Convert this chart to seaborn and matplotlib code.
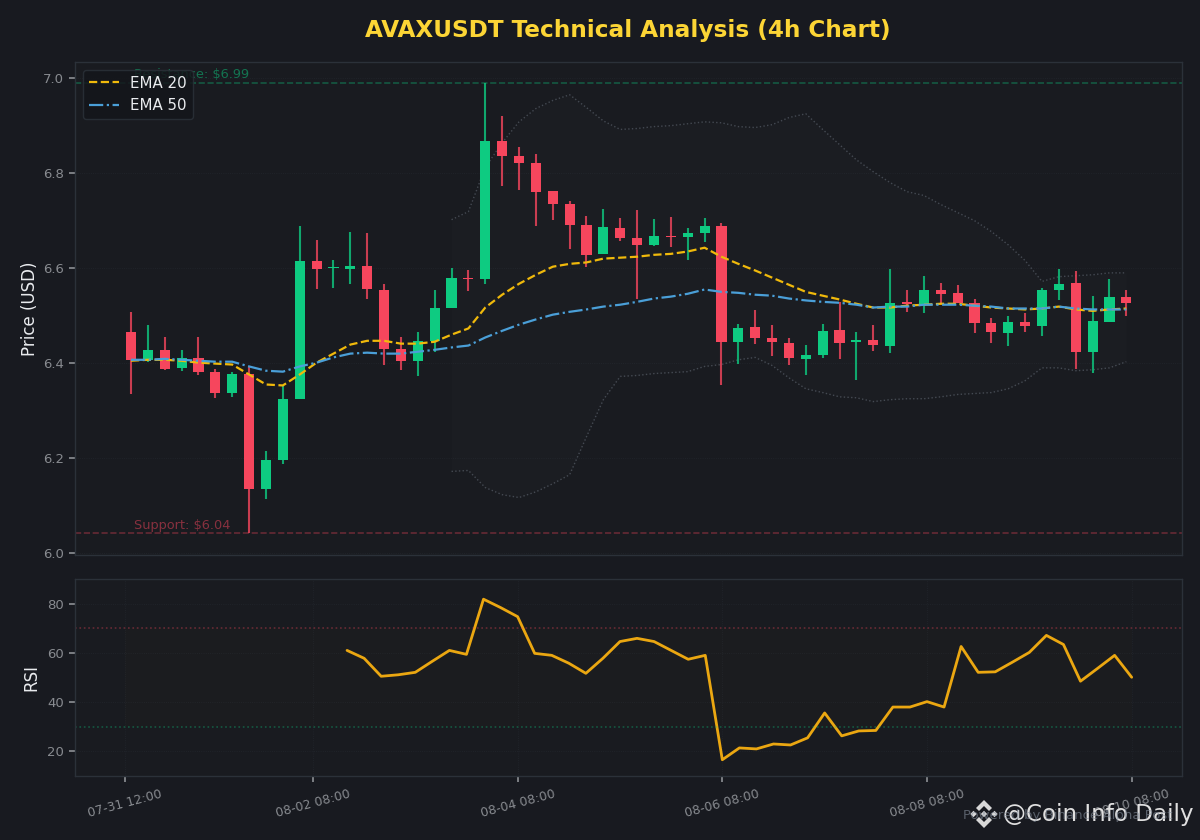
# AVAXUSDT 4h candles with EMA, Bollinger bands and RSI
import numpy as np
import pandas as pd
import matplotlib
matplotlib.use('Agg')
import matplotlib.pyplot as plt
import seaborn as sns

opens = [6.465, 6.406, 6.427, 6.389, 6.410, 6.381, 6.337, 6.377, 6.135, 6.194,
         6.324, 6.615, 6.600, 6.598, 6.604, 6.554, 6.429, 6.404, 6.446, 6.516,
         6.579, 6.577, 6.867, 6.836, 6.821, 6.762, 6.733, 6.690, 6.629, 6.684,
         6.663, 6.648, 6.667, 6.665, 6.672, 6.688, 6.444, 6.474, 6.451, 6.442,
         6.408, 6.417, 6.469, 6.444, 6.448, 6.436, 6.528, 6.524, 6.554, 6.547,
         6.526, 6.484, 6.463, 6.486, 6.478, 6.552, 6.568, 6.423, 6.486, 6.539]
closes = [6.406, 6.427, 6.387, 6.410, 6.381, 6.337, 6.377, 6.135, 6.194, 6.324,
          6.613, 6.598, 6.600, 6.604, 6.556, 6.429, 6.404, 6.446, 6.516, 6.579,
          6.577, 6.867, 6.836, 6.821, 6.760, 6.735, 6.690, 6.627, 6.686, 6.663,
          6.648, 6.667, 6.665, 6.672, 6.688, 6.444, 6.472, 6.451, 6.444, 6.410,
          6.417, 6.467, 6.442, 6.448, 6.438, 6.526, 6.524, 6.554, 6.545, 6.526,
          6.484, 6.465, 6.486, 6.478, 6.552, 6.566, 6.423, 6.488, 6.539, 6.526]
highs = [6.507, 6.480, 6.455, 6.427, 6.455, 6.387, 6.381, 6.390, 6.213, 6.352,
         6.688, 6.659, 6.617, 6.676, 6.674, 6.566, 6.453, 6.465, 6.554, 6.600,
         6.596, 6.989, 6.920, 6.853, 6.840, 6.762, 6.741, 6.709, 6.724, 6.705,
         6.722, 6.703, 6.707, 6.684, 6.705, 6.695, 6.482, 6.510, 6.480, 6.451,
         6.438, 6.482, 6.528, 6.465, 6.480, 6.598, 6.554, 6.583, 6.568, 6.564,
         6.533, 6.495, 6.499, 6.505, 6.558, 6.598, 6.592, 6.541, 6.577, 6.552]
lows = [6.333, 6.402, 6.385, 6.383, 6.375, 6.326, 6.328, 6.042, 6.112, 6.187,
        6.324, 6.556, 6.558, 6.566, 6.533, 6.394, 6.385, 6.371, 6.423, 6.516,
        6.550, 6.566, 6.771, 6.764, 6.688, 6.701, 6.640, 6.602, 6.629, 6.657,
        6.533, 6.646, 6.644, 6.617, 6.655, 6.352, 6.398, 6.440, 6.413, 6.396,
        6.375, 6.410, 6.408, 6.364, 6.425, 6.421, 6.507, 6.505, 6.524, 6.526,
        6.463, 6.442, 6.436, 6.465, 6.457, 6.531, 6.387, 6.379, 6.486, 6.499]
ema20 = [6.404, 6.406, 6.406, 6.404, 6.400, 6.398, 6.396, 6.375, 6.354, 6.352,
         6.375, 6.400, 6.419, 6.438, 6.446, 6.446, 6.440, 6.440, 6.444, 6.459,
         6.472, 6.516, 6.543, 6.566, 6.585, 6.602, 6.608, 6.611, 6.619, 6.621,
         6.623, 6.627, 6.629, 6.634, 6.642, 6.623, 6.608, 6.594, 6.579, 6.564,
         6.549, 6.541, 6.533, 6.524, 6.516, 6.516, 6.520, 6.522, 6.524, 6.524,
         6.520, 6.516, 6.514, 6.512, 6.514, 6.518, 6.512, 6.509, 6.512, 6.514]
ema50 = [6.406, 6.406, 6.408, 6.406, 6.404, 6.402, 6.402, 6.392, 6.383, 6.381,
         6.392, 6.400, 6.411, 6.419, 6.421, 6.419, 6.419, 6.423, 6.427, 6.432,
         6.436, 6.453, 6.467, 6.480, 6.491, 6.501, 6.507, 6.512, 6.518, 6.522,
         6.528, 6.535, 6.539, 6.545, 6.554, 6.549, 6.547, 6.543, 6.541, 6.535,
         6.531, 6.528, 6.526, 6.522, 6.516, 6.518, 6.518, 6.522, 6.522, 6.522,
         6.520, 6.518, 6.514, 6.514, 6.514, 6.518, 6.514, 6.512, 6.512, 6.512]
# bands and rsi start later than the candles
bb_upper = [6.701, 6.718, 6.811, 6.863, 6.907, 6.935, 6.952, 6.964, 6.937, 6.909,
            6.891, 6.893, 6.897, 6.899, 6.903, 6.907, 6.905, 6.897, 6.895, 6.901,
            6.916, 6.924, 6.891, 6.859, 6.827, 6.802, 6.779, 6.760, 6.752, 6.733,
            6.716, 6.699, 6.676, 6.648, 6.615, 6.571, 6.581, 6.583, 6.585, 6.589,
            6.589]
bb_lower = [6.171, 6.173, 6.137, 6.122, 6.116, 6.128, 6.145, 6.164, 6.244, 6.322,
            6.371, 6.373, 6.377, 6.379, 6.381, 6.392, 6.396, 6.406, 6.411, 6.394,
            6.368, 6.345, 6.337, 6.328, 6.326, 6.318, 6.322, 6.324, 6.324, 6.328,
            6.333, 6.335, 6.337, 6.345, 6.362, 6.389, 6.389, 6.383, 6.385, 6.389,
            6.402]
rsi = [61.0, 57.8, 50.5, 51.1, 52.1, 56.6, 61.0, 59.4, 81.8, 78.4,
       74.7, 59.8, 59.0, 55.8, 51.7, 57.8, 64.6, 65.9, 64.6, 61.0,
       57.4, 59.0, 16.6, 21.4, 21.0, 23.0, 22.6, 25.5, 35.6, 26.3,
       28.3, 28.5, 38.0, 38.0, 40.2, 38.0, 62.6, 52.1, 52.3, 56.2,
       60.2, 67.1, 63.4, 48.5, 53.7, 59.0, 50.1]
tick_bars = [0, 11, 23, 35, 47, 59]
tick_labels = ['07-31 12:00', '08-02 08:00', '08-04 08:00', '08-06 08:00', '08-08 08:00', '08-10 08:00']
resistance = 6.989
support = 6.042

BG = '#181A20'
PANEL = '#191B20'
GREEN = '#0ECB81'
RED = '#F6465D'
YELLOW = '#FCD535'
TICK = '#888B90'

sns.set_theme(style='darkgrid', rc={
    'figure.facecolor': BG, 'axes.facecolor': PANEL, 'axes.edgecolor': '#2B3139',
    'axes.linewidth': 1.0, 'grid.color': '#2B3139', 'grid.linestyle': ':',
    'grid.linewidth': 0.6, 'grid.alpha': 0.5, 'xtick.bottom': True, 'ytick.left': True,
    'xtick.color': TICK, 'ytick.color': TICK, 'axes.labelcolor': '#EAECEF',
    'xtick.labelcolor': TICK, 'ytick.labelcolor': TICK,
})
plt.rcParams['font.family'] = ['DejaVu Sans']

df = pd.DataFrame({'bar': np.arange(len(opens)), 'open': opens, 'close': closes,
                   'high': highs, 'low': lows, 'ema20': ema20, 'ema50': ema50})
df['bb_upper'] = [np.nan] * (len(df) - len(bb_upper)) + bb_upper
df['bb_lower'] = [np.nan] * (len(df) - len(bb_lower)) + bb_lower
df['rsi'] = [np.nan] * (len(df) - len(rsi)) + rsi
df['color'] = np.where(df['close'] >= df['open'], GREEN, RED)

fig = plt.figure(figsize=(12, 8.4), dpi=100)
ax = fig.add_axes([75 / 1200, 1 - 555 / 840, 1107 / 1200, 493 / 840])
ax2 = fig.add_axes([75 / 1200, 1 - 776 / 840, 1107 / 1200, 197 / 840])

# bollinger bands
ax.fill_between(df['bar'], df['bb_lower'], df['bb_upper'], color='#FFFFFF', alpha=0.012, lw=0)
ax.plot(df['bar'], df['bb_upper'], color='#848E9C', ls=':', lw=1, alpha=0.4)
ax.plot(df['bar'], df['bb_lower'], color='#848E9C', ls=':', lw=1, alpha=0.4)

# candles
ax.vlines(df['bar'], df['low'], df['high'], colors=df['color'], lw=1.5, alpha=0.8, zorder=3)
heights = (df['close'] - df['open']).abs().clip(lower=0.002)
bottoms = df[['open', 'close']].min(axis=1)
ax.bar(df['bar'], heights, bottom=bottoms, width=0.6, color=df['color'], lw=0, zorder=4)

sns.lineplot(data=df, x='bar', y='ema20', ax=ax, color='#F0B90B', lw=1.6, ls='--', label='EMA 20', zorder=5)
sns.lineplot(data=df, x='bar', y='ema50', ax=ax, color='#4A9FD8', lw=1.6, ls='-.', label='EMA 50', zorder=5)

ax.axhline(resistance, color=GREEN, ls='--', lw=1.2, alpha=0.35)
ax.axhline(support, color=RED, ls='--', lw=1.2, alpha=0.35)
ax.text(0.2, resistance + 0.003, f'Resistance: ${resistance:.2f}', color=GREEN, alpha=0.5, fontsize=9.3, va='bottom')
ax.text(0.2, support + 0.002, f'Support: ${support:.2f}', color=RED, alpha=0.5, fontsize=9.3, va='bottom')

ax.set_xlim(-3.32, 62.3)
ax.set_ylim(5.995, 7.033)
ax.set_yticks([6.0, 6.2, 6.4, 6.6, 6.8, 7.0])
ax.tick_params(axis='y', labelsize=9.5, length=4.5)
ax.tick_params(axis='x', bottom=False, labelbottom=False)
ax.grid(axis='x', visible=False)
ax.set_xlabel('')
ax.set_ylabel('Price (USD)', fontsize=12, labelpad=2.5)
leg = ax.legend(loc='upper left', fontsize=10.8, facecolor='#14161B', edgecolor='#2B3139', framealpha=0.85)
for t in leg.get_texts():
    t.set_color('#EAECEF')
leg.set_zorder(10)

# rsi panel
ax2.fill_between(df['bar'], 30, 70, color='#F0B90B', alpha=0.012, lw=0)
sns.lineplot(data=df, x='bar', y='rsi', ax=ax2, color='#EBA711', lw=2)
ax2.axhline(70, color=RED, ls=':', lw=1.2, alpha=0.35)
ax2.axhline(30, color=GREEN, ls=':', lw=1.2, alpha=0.35)
ax2.set_xlim(-2.95, 61.95)
ax2.set_ylim(10, 90)
ax2.set_yticks([20, 40, 60, 80])
ax2.set_xticks(tick_bars)
ax2.set_xticklabels(tick_labels, rotation=15, fontsize=9)
ax2.tick_params(axis='y', labelsize=9.5, length=4.5)
ax2.tick_params(axis='x', length=4.5)
ax2.set_xlabel('')
ax2.set_ylabel('RSI', fontsize=12, labelpad=4.7)

for a in (ax, ax2):
    for s in a.spines.values():
        s.set_color('#2B3139')

fig.text(628 / 1200, 1 - 30 / 840, 'AVAXUSDT Technical Analysis (4h Chart)', color=YELLOW,
         fontsize=16.7, fontweight='bold', ha='center', va='center')
fig.text(963 / 1200, 1 - 816 / 840, 'Powered by Binance Alpha Post', color='#848E9C', alpha=0.6,
         fontsize=9.5, ha='left', va='center')

# watermark: logo and handle
logo = fig.add_axes([0, 0, 1, 1], facecolor='none')
logo.set_xlim(0, 1200)
logo.set_ylim(840, 0)
logo.axis('off')
chevron = np.array([(0, -14), (8, -6), (5, -3), (0, -8), (-5, -3), (-8, -6)])
diamond = np.array([(0, -3.2), (3.2, 0), (0, 3.2), (-3.2, 0)])
for dx, dy, flip, shape in [(0, 0, 1, chevron), (0, 0, -1, chevron), (0, 0, 1, diamond),
                            (-10.5, 0, 1, diamond), (10.5, 0, 1, diamond)]:
    logo.fill(984 + dx + shape[:, 0], 814 + dy + flip * shape[:, 1], color='#D8D8D8', lw=0)
logo.text(1003, 815, '@Coin Info Daily', color='#E0E0E0', fontsize=16.6, va='center', ha='left')

fig.savefig('out.png', dpi=100, facecolor=BG)
